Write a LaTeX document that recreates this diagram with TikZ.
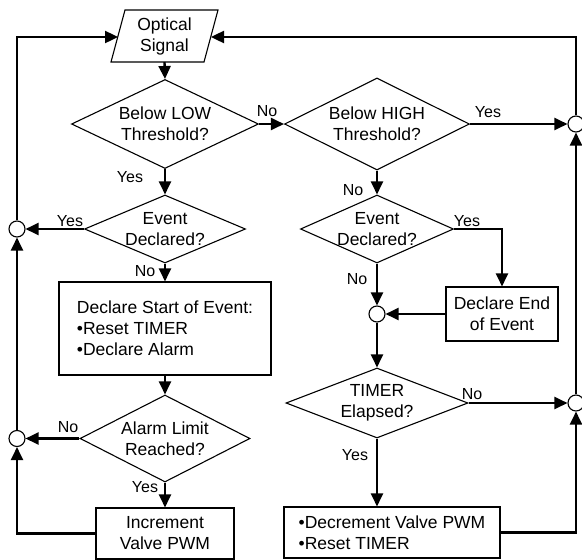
\documentclass[tikz,border=0pt]{standalone}
\usepackage{fontspec}
\setmainfont{Liberation Sans}
\usetikzlibrary{shapes.geometric,arrows.meta}
\begin{document}
\begin{tikzpicture}[x=1pt,y=-1pt,
  every node/.style={font=\fontsize{17.5}{21}\selectfont},
  shp/.style={draw, line width=1.1pt, inner sep=0pt},
  dia/.style={shp, diamond},
  box/.style={shp, rectangle},
  jn/.style={shp, circle, minimum size=16pt, fill=white},
  txt/.style={align=center, inner sep=0pt},
  lbl/.style={font=\fontsize{16}{19}\selectfont, inner sep=0pt},
  conn/.style={line width=2.4pt, -{Triangle[length=13pt,width=12pt]}}
]
\useasboundingbox (0,0) rectangle (582,560);

% input parallelogram
\draw[line width=1.1pt] (125,10) -- (218,10) -- (204,62) -- (111,62) -- cycle;
\node[txt] (os) at (164.5,36) {Optical\\Signal};
\coordinate (osL) at (118,37);
\coordinate (osR) at (211,37);
\coordinate (osB) at (164.5,62);

% shapes
\node[dia, minimum width=187pt, minimum height=89pt] (d1) at (165,124) {};
\node[txt] (d1t) at (d1) {Below LOW\\Threshold?};
\node[dia, minimum width=185pt, minimum height=92pt] (d2) at (377,124) {};
\node[txt] (d2t) at (d2) {Below HIGH\\Threshold?};
\node[dia, minimum width=161pt, minimum height=68pt] (d3) at (165,229) {};
\node[txt] (d3t) at (d3) {Event\\Declared?};
\node[dia, minimum width=153pt, minimum height=68pt] (d5) at (377,229) {};
\node[txt] (d5t) at (d5) {Event\\Declared?};
\node[box, minimum width=212pt, minimum height=93pt, align=left] (b1) at (165,328.5)
  {Declare Start of Event:\\•Reset TIMER\\•Declare Alarm};
\node[dia, minimum width=170pt, minimum height=87pt] (d4) at (165,438.5) {};
\node[txt] (d4t) at (d4) {Alarm Limit\\Reached?};
\node[box, minimum width=138pt, minimum height=51pt, align=center] (b2) at (165,533.5) {Increment\\Valve PWM};
\node[box, minimum width=112pt, minimum height=54pt, align=center] (b3) at (502,314) {Declare End\\of Event};
\node[dia, minimum width=182pt, minimum height=70pt] (d6) at (377,403) {};
\node[txt] (d6t) at (d6) {TIMER\\Elapsed?};
\node[box, minimum width=216pt, minimum height=51pt, align=left] (b4) at (392,532.5)
  {•Decrement Valve PWM\\•Reset TIMER};

% connectors
\draw[conn] (osB) -- (d1.north);
\draw[conn] (d1.east) -- (d2.west);
\draw[conn] (d1.south) -- (d3.north);
\draw[conn] (d2.south) -- (d5.north);
\draw[conn] (d3.south) -- (b1.north);
\draw[conn] (b1.south) -- (d4.north);
\draw[conn] (d4.south) -- (b2.north);
\draw[conn] (d5.east) -| (b3.north);
\draw[conn] (d6.south) -- (d6.south |- b4.north);

% junctions
\node[jn] (cm) at (377,314) {};
\node[jn] (cl1) at (17,229) {};
\node[jn] (cl2) at (17,438.5) {};
\node[jn] (cr1) at (576,124) {};
\node[jn] (cr2) at (576,403) {};

\draw[conn] (d2.east) -- (cr1);
\draw[conn] (d3.west) -- (cl1);
\draw[conn] (d4.west) -- (cl2);
\draw[conn] (b2.west) -| (cl2);
\draw[conn] (cl2) -- (cl1);
\draw[conn] (cl1) |- (osL);
\draw[conn] (d5.south) -- (cm);
\draw[conn] (b3.west) -- (cm);
\draw[conn] (cm) -- (d6.north);
\draw[conn] (d6.east) -- (cr2);
\draw[conn] (b4.east) -| (cr2);
\draw[conn] (cr2) -- (cr1);
\draw[conn] (cr1) |- (osR);

% labels
\node[lbl] (l1) at (267,111) {No};
\node[lbl] (l2) at (130,177) {Yes};
\node[lbl] (l3) at (488,112) {Yes};
\node[lbl] (l4) at (353,190) {No};
\node[lbl] (l5) at (70,221) {Yes};
\node[lbl] (l6) at (145,271) {No};
\node[lbl] (l7) at (467,221) {Yes};
\node[lbl] (l8) at (357,279) {No};
\node[lbl] (l9) at (68,427) {No};
\node[lbl] (l10) at (145,487) {Yes};
\node[lbl] (l11) at (472,394) {No};
\node[lbl] (l12) at (355,455) {Yes};
\end{tikzpicture}
\end{document}
